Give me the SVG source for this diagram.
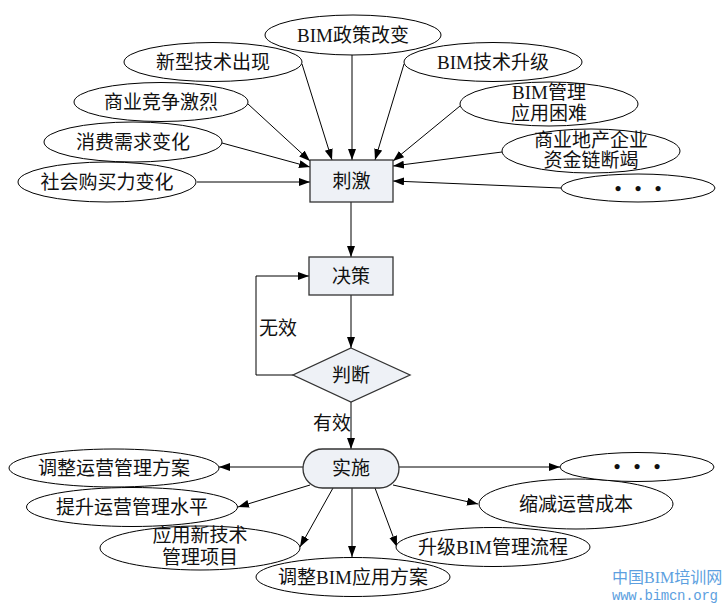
<svg xmlns="http://www.w3.org/2000/svg" width="727" height="606" viewBox="0 0 727 606">
<style>
.e{fill:#fff;stroke:#000;stroke-width:1}
.b{fill:#eef1f6;stroke:#333;stroke-width:1.3}
.t{font-family:"Liberation Serif","Noto Sans CJK SC",serif;font-size:19px;fill:#111;text-anchor:middle;dominant-baseline:central}
.c line,.c polyline{stroke:#000;stroke-width:1;fill:none;marker-end:url(#a)}
.wm{font-family:"Liberation Serif","Noto Sans CJK SC",serif;fill:#5d9fe0;font-size:16px}
</style>
<defs>
<marker id="a" markerUnits="userSpaceOnUse" markerWidth="12" markerHeight="10" refX="11" refY="4" orient="auto">
<path d="M0,0 L11,4 L0,8 Z" fill="#000"/>
</marker>
</defs>
<rect width="727" height="606" fill="#fff"/>
<g class="c" id="connectors">
<line x1="352" y1="55" x2="352" y2="160"/>
<line x1="302" y1="64" x2="332" y2="160"/>
<line x1="248" y1="104" x2="310" y2="161"/>
<line x1="222" y1="143" x2="310" y2="167"/>
<line x1="197" y1="182" x2="310" y2="182"/>
<line x1="404" y1="64" x2="375" y2="160"/>
<line x1="460" y1="106" x2="393" y2="161"/>
<line x1="502" y1="152" x2="393" y2="166"/>
<line x1="561" y1="188" x2="393" y2="181"/>
<line x1="351" y1="202" x2="351" y2="257"/>
<line x1="351" y1="295" x2="351" y2="348"/>
<polyline points="293,375 256,375 256,276 309,276"/>
<line x1="351" y1="402" x2="351" y2="449"/>
<line x1="303" y1="467" x2="219" y2="467"/>
<line x1="310" y1="485" x2="238" y2="507"/>
<line x1="333" y1="488" x2="300" y2="547"/>
<line x1="352" y1="488" x2="352" y2="557"/>
<line x1="375" y1="488" x2="397" y2="547"/>
<line x1="393" y1="485" x2="478" y2="504"/>
<line x1="399" y1="467" x2="560" y2="467"/>
</g>
<g id="n-policy"><ellipse class="e" cx="353" cy="35" rx="88" ry="20"/><text class="t" x="353" y="35">BIM政策改变</text></g>
<g id="n-newtech"><ellipse class="e" cx="213" cy="62" rx="89" ry="19.5"/><text class="t" x="213" y="62">新型技术出现</text></g>
<g id="n-compete"><ellipse class="e" cx="161" cy="102" rx="87" ry="19.5"/><text class="t" x="161" y="102">商业竞争激烈</text></g>
<g id="n-demand"><ellipse class="e" cx="133" cy="142" rx="89" ry="20"/><text class="t" x="133" y="142">消费需求变化</text></g>
<g id="n-power"><ellipse class="e" cx="107" cy="182" rx="89" ry="20"/><text class="t" x="107" y="182">社会购买力变化</text></g>
<g id="n-bimtech"><ellipse class="e" cx="493" cy="62" rx="89" ry="19.5"/><text class="t" x="493" y="62">BIM技术升级</text></g>
<g id="n-bimmgmt"><ellipse class="e" cx="549" cy="104" rx="89" ry="22"/><text class="t" x="549" y="92">BIM管理</text><text class="t" x="549" y="113">应用困难</text></g>
<g id="n-capital"><ellipse class="e" cx="591" cy="151" rx="89" ry="22"/><text class="t" x="591" y="140">商业地产企业</text><text class="t" x="591" y="160">资金链断竭</text></g>
<g id="n-more1"><ellipse class="e" cx="638" cy="188" rx="77" ry="14"/><text class="t" x="618 638 658" y="188" style="font-weight:bold">•••</text></g>
<g id="n-stim"><rect class="b" x="310" y="160" width="83" height="42"/><text class="t" x="351.5" y="181">刺激</text></g>
<g id="n-decide"><rect class="b" x="309" y="257" width="84" height="38"/><text class="t" x="351" y="276">决策</text></g>
<g id="n-judge"><polygon class="b" points="351,348 410,375 351,402 293,375"/><text class="t" x="351" y="375">判断</text></g>
<text class="t" x="278" y="328">无效</text>
<text class="t" x="332" y="423">有效</text>
<g id="n-impl"><rect class="b" x="303" y="449" width="96" height="39" rx="19.5"/><text class="t" x="351" y="468">实施</text></g>
<g id="n-adjop"><ellipse class="e" cx="114" cy="468" rx="105" ry="19"/><text class="t" x="114" y="468">调整运营管理方案</text></g>
<g id="n-raise"><ellipse class="e" cx="132" cy="507" rx="105.5" ry="19.5"/><text class="t" x="132" y="507">提升运营管理水平</text></g>
<g id="n-newproj"><ellipse class="e" cx="200" cy="548" rx="100" ry="22"/><text class="t" x="200" y="535">应用新技术</text><text class="t" x="200" y="557">管理项目</text></g>
<g id="n-adjbim"><ellipse class="e" cx="353" cy="577" rx="97" ry="19.5"/><text class="t" x="353" y="577">调整BIM应用方案</text></g>
<g id="n-upflow"><ellipse class="e" cx="493" cy="547" rx="97" ry="19.5"/><text class="t" x="493" y="547">升级BIM管理流程</text></g>
<g id="n-cost"><ellipse class="e" cx="576" cy="504" rx="97" ry="25"/><text class="t" x="576" y="504">缩减运营成本</text></g>
<g id="n-more2"><ellipse class="e" cx="637" cy="467" rx="77" ry="14.5"/><text class="t" x="617 637 657" y="466" style="font-weight:bold">•••</text></g>
<text class="wm" x="612" y="583">中国BIM培训网</text>
<text class="wm" x="612" y="600" style="font-family:'Liberation Mono',monospace;font-size:14px" textLength="106">www.bimcn.org</text>
</svg>
